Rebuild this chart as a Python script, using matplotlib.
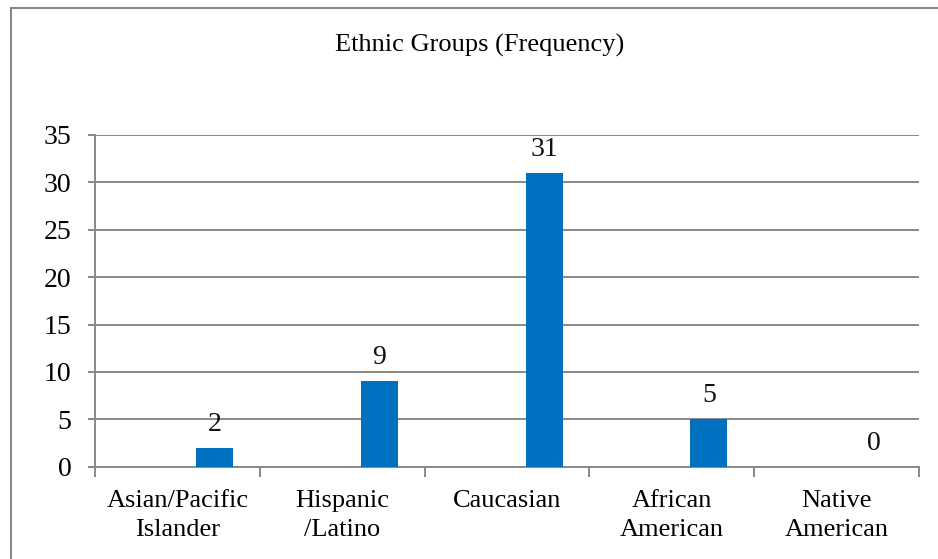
import matplotlib
matplotlib.use("Agg")
import matplotlib.pyplot as plt
from matplotlib.patches import Rectangle

categories = ["Asian/Pacific\nIslander", "Hispanic\n/Latino", "Caucasian", "African\nAmerican", "Native\nAmerican"]
values = [2, 9, 31, 5, 0]
yticks = [0, 5, 10, 15, 20, 25, 30, 35]
title = "Ethnic Groups (Frequency)"

plt.rcParams['font.family'] = ['Liberation Serif', 'DejaVu Serif']

fig = plt.figure(figsize=(9.38, 5.59), dpi=100)
fig.patches.append(Rectangle((11/938, -0.01), 1.0, 1 - 8/559 + 0.01, transform=fig.transFigure,
                             fill=False, edgecolor='#888888', linewidth=1.5))
ax = fig.add_axes([95/938, 1-466.7/559, (919-95)/938, (466.7-135)/559])

grid_c = '#888888'
x = list(range(len(categories)))
xb = [i + 0.225 for i in x]
ax.bar(xb, values, width=0.225, color='#0070C0', zorder=3)
for xi, v in zip(xb, values):
    ax.annotate(str(v), (xi, v), xytext=(0, 8), textcoords='offset points',
                ha='center', va='bottom', fontsize=20, color='#111111')

ax.set_xlim(-0.5, len(categories) - 0.5)
ax.set_ylim(0, 35)
ax.set_yticks(yticks)
ax.set_yticklabels([str(t) for t in yticks], fontsize=20)
ax.yaxis.grid(True, color=grid_c, linewidth=1.4, zorder=0)
ax.set_axisbelow(True)

ax.set_xticks([i - 0.5 for i in range(len(categories) + 1)])
ax.set_xticklabels([])
ax.set_xticks(x, minor=True)
ax.set_xticklabels(categories, minor=True, fontsize=19, linespacing=1.4)
ax.tick_params(axis='x', which='minor', length=0, pad=17)
ax.tick_params(axis='x', which='major', length=7, width=1.4, color=grid_c, direction='out')
ax.tick_params(axis='y', length=5, width=1.4, color=grid_c, pad=12)

for s in ['top', 'right']:
    ax.spines[s].set_visible(False)
for s in ['left', 'bottom']:
    ax.spines[s].set_color(grid_c)
    ax.spines[s].set_linewidth(1.4)

fig.text(480/938, 1-45/559, title, ha='center', va='center', fontsize=19)

fig.savefig("out.png", dpi=100)
